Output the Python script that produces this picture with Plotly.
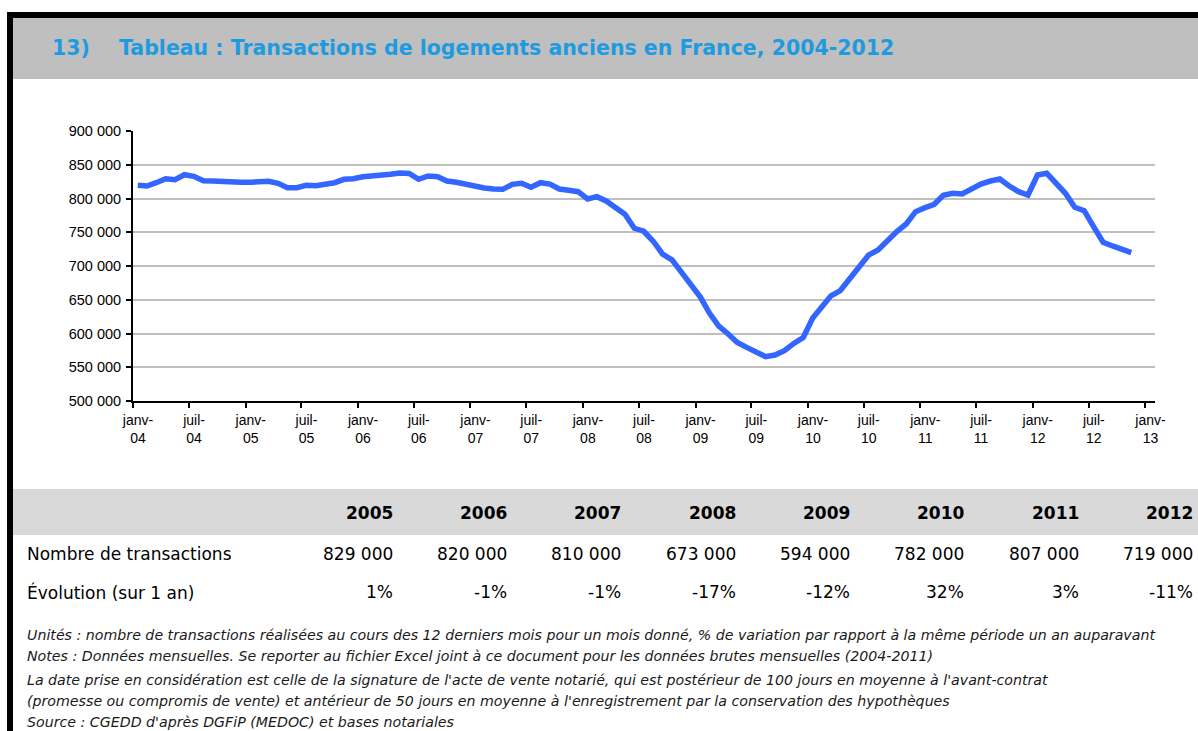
import pandas as pd
import plotly.graph_objects as go

# ---------------- data ----------------
months = pd.date_range("2004-01-01", periods=107, freq="MS")

transactions = [
    819500, 818500, 823400, 829300, 827800, 835200, 832800, 826300, 825900, 824900, 824000, 824000,  # 2004
    824000, 824900, 825400, 822500, 816000, 816000, 819500, 819000, 821400, 823400, 828400, 829300,  # 2005
    832300, 833000, 835200, 835800, 837700, 837200, 828400, 833300, 832300, 825900, 824000, 821000,  # 2006
    816600, 815500, 814000, 813600, 821000, 822500, 816600, 823400, 821400, 814000, 812100, 810100,  # 2007
    799300, 802700, 796300, 787000, 776600, 755900, 751500, 736700, 717500, 709000, 690800, 672100,  # 2008
    653900, 630200, 611400, 599600, 586700, 579400, 572500, 565600, 568100, 574500, 585300, 594100,  # 2009
    622800, 640000, 655800, 663600, 682000, 699100, 716000, 723800, 738600, 751000, 762300, 780500,  # 2010
    786400, 791400, 804700, 807700, 806700, 813600, 821400, 825900, 828800, 818500, 810100, 805200,  # 2011
    834800, 837300, 822500, 807700, 787000, 782000, 758300, 735200, 729700, 724900, 719800,          # 2012
]

tick_dates = ["2004-01-01", "2004-07-01", "2005-01-01", "2005-07-01", "2006-01-01", "2006-07-01",
              "2007-01-01", "2007-07-01", "2008-01-01", "2008-07-01", "2009-01-01", "2009-07-01",
              "2010-01-01", "2010-07-01", "2011-01-01", "2011-07-01", "2012-01-01", "2012-07-01",
              "2013-01-01"]
tick_labels = ["janv-<br>04", "juil-<br>04", "janv-<br>05", "juil-<br>05", "janv-<br>06", "juil-<br>06",
               "janv-<br>07", "juil-<br>07", "janv-<br>08", "juil-<br>08", "janv-<br>09", "juil-<br>09",
               "janv-<br>10", "juil-<br>10", "janv-<br>11", "juil-<br>11", "janv-<br>12", "juil-<br>12",
               "janv-<br>13"]

table_years = ["2005", "2006", "2007", "2008", "2009", "2010", "2011", "2012"]
table_counts = ["829 000", "820 000", "810 000", "673 000", "594 000", "782 000", "807 000", "719 000"]
table_evol = ["1%", "-1%", "-1%", "-17%", "-12%", "32%", "3%", "-11%"]

title_num = "13)"
title_text = "Tableau : Transactions de logements anciens en France, 2004-2012"
notes = [
    "Unités : nombre de transactions réalisées au cours des 12 derniers mois pour un mois donné, % de variation par rapport à la même période un an auparavant",
    "Notes : Données mensuelles. Se reporter au fichier Excel joint à ce document pour les données brutes mensuelles (2004-2011)",
    "La date prise en considération est celle de la signature de l'acte de vente notarié, qui est postérieur de 100 jours en moyenne à l'avant-contrat",
    "(promesse ou compromis de vente) et antérieur de 50 jours en moyenne à l'enregistrement par la conservation des hypothèques",
    "Source : CGEDD d'après DGFiP (MEDOC) et bases notariales",
]

# ---------------- layout helpers ----------------
W, H = 1198, 731


def px(x):
    return x / W


def py(y):
    return 1 - y / H


fig = go.Figure()
fig.add_trace(go.Scatter(
    x=months, y=transactions, mode="lines",
    xperiod="M1", xperiodalignment="middle",
    line=dict(color="#3366FF", width=5.5),
    hoverinfo="skip", showlegend=False,
))

axis_font = dict(family="Liberation Sans, Arial, sans-serif", size=14, color="#000000")

fig.update_layout(
    width=W, height=H,
    margin=dict(l=0, r=0, t=0, b=0),
    paper_bgcolor="#FFFFFF", plot_bgcolor="#FFFFFF",
    separators=", ",
    showlegend=False,
    xaxis=dict(
        domain=[px(133), px(1155)],
        type="date",
        range=["2004-01-01", "2013-02-01"],
        tickvals=tick_dates, ticktext=tick_labels,
        ticks="outside", ticklen=5, tickwidth=2, tickcolor="#000000",
        ticklabelshift=5,
        showline=True, linecolor="#000000", linewidth=2,
        showgrid=False, zeroline=False,
        tickfont=axis_font, automargin=False,
    ),
    yaxis=dict(
        domain=[py(401), py(131)],
        range=[500000, 900000],
        dtick=50000, tick0=500000, tickformat=",d",
        ticks="outside", ticklen=5, tickwidth=2, tickcolor="#000000",
        ticklabelstandoff=2,
        showline=True, linecolor="#000000", linewidth=2,
        showgrid=True, gridcolor="#C0C0C0", gridwidth=2,
        zeroline=False,
        tickfont=dict(family="Liberation Sans, Arial, sans-serif", size=14.5, color="#000000"),
        automargin=False,
    ),
)

shapes = [
    # title bar
    dict(type="rect", xref="paper", yref="paper", x0=px(13), x1=px(1198), y0=py(79), y1=py(18),
         fillcolor="#BFBFBF", line=dict(width=0), layer="below"),
    # black frame top and left
    dict(type="rect", xref="paper", yref="paper", x0=px(7), x1=px(1198), y0=py(18), y1=py(12),
         fillcolor="#000000", line=dict(width=0)),
    dict(type="rect", xref="paper", yref="paper", x0=px(7), x1=px(13), y0=py(731), y1=py(12),
         fillcolor="#000000", line=dict(width=0)),
    # table header band
    dict(type="rect", xref="paper", yref="paper", x0=px(13), x1=px(1198), y0=py(535), y1=py(489),
         fillcolor="#D9D9D9", line=dict(width=0), layer="below"),
]
fig.update_layout(shapes=shapes)

title_font = dict(family="DejaVu Sans, sans-serif", size=20.5, color="#1E9BE0")
ann = [
    dict(text="<b>" + title_num + "</b>", x=px(50), y=py(48), xanchor="left", yanchor="middle",
         font=title_font),
    dict(text="<b>" + title_text + "</b>", x=px(117), y=py(48), xanchor="left", yanchor="middle",
         font=title_font),
]

table_font = dict(family="DejaVu Sans, sans-serif", size=17, color="#000000")
col_right = [395, 509, 623, 738, 852, 966, 1081, 1195]
for xr, yr, cnt, ev in zip(col_right, table_years, table_counts, table_evol):
    ann.append(dict(text="<b>" + yr + "</b>", x=px(xr), y=py(513), xanchor="right", yanchor="middle",
                    font=table_font))
    ann.append(dict(text=cnt, x=px(xr), y=py(554), xanchor="right", yanchor="middle", font=table_font))
    ann.append(dict(text=ev, x=px(xr), y=py(592), xanchor="right", yanchor="middle", font=table_font))
ann.append(dict(text="Nombre de transactions", x=px(25), y=py(554), xanchor="left", yanchor="middle",
                font=table_font))
ann.append(dict(text="Évolution (sur 1 an)", x=px(25), y=py(592), xanchor="left", yanchor="middle",
                font=table_font))

note_font = dict(family="DejaVu Sans, sans-serif", size=14.2, color="#1A1A1A")
for yy, line in zip([635, 656, 680, 701, 722], notes):
    ann.append(dict(text="<i>" + line + "</i>", x=px(25), y=py(yy), xanchor="left", yanchor="middle",
                    font=note_font))

for a in ann:
    a.update(xref="paper", yref="paper", showarrow=False)
fig.update_layout(annotations=ann)

fig.write_html(
    "out.html",
    config={"displayModeBar": False},
    post_script="document.body.style.margin='0';document.body.style.overflow='hidden';",
)
